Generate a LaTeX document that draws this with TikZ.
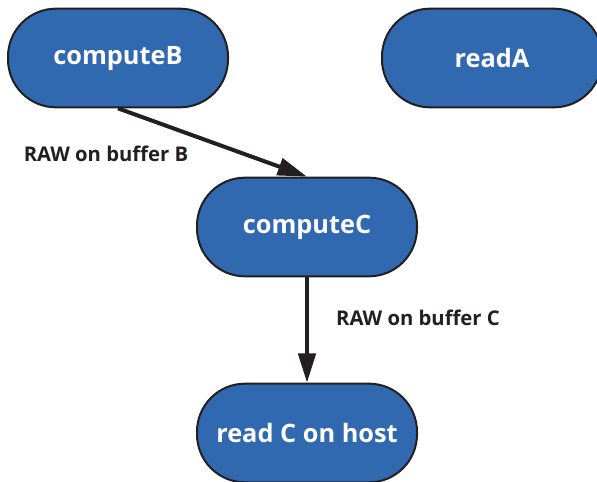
\documentclass[tikz,border=0pt]{standalone}
\usepackage{fontspec}
\setmainfont{Open Sans}
\usepackage{xcolor}
\usetikzlibrary{arrows.meta}

\definecolor{taskblue}{HTML}{3169B0}
\definecolor{inkdark}{HTML}{231F20}

\begin{document}
\begin{tikzpicture}[x=0.75pt,y=-0.75pt,
    task/.style={draw=inkdark,fill=taskblue,line width=1.5pt,rounded corners=36pt,
      minimum width=165pt,minimum height=74pt,text=white,inner sep=0pt,
      font=\fontsize{19}{22}\selectfont\bfseries},
    dep/.style={draw=inkdark,line width=3pt,-{Triangle[length=22pt,width=13pt]}},
    deplabel/.style={text=inkdark,font=\fontsize{15.2}{18}\selectfont\bfseries}]
\useasboundingbox (0,0) rectangle (597,482);
  % kernels and host read
  \node[task] (computeB) at (118,58) {computeB};
  \node[task] (readA) at (492,58) {readA};
  \node[task] (computeC) at (307,227) {computeC};
  \node[task] (readC) at (307,433) {read C on host};
  % dependencies
  \draw[dep] (computeB.south) -- (computeC.north);
  \node[deplabel] (rawB) at (106,154) {RAW on buffer B};
  \draw[dep] (computeC.south) -- (readC.north);
  \node[deplabel] (rawC) at (418,318) {RAW on buffer C};
\end{tikzpicture}
\end{document}
